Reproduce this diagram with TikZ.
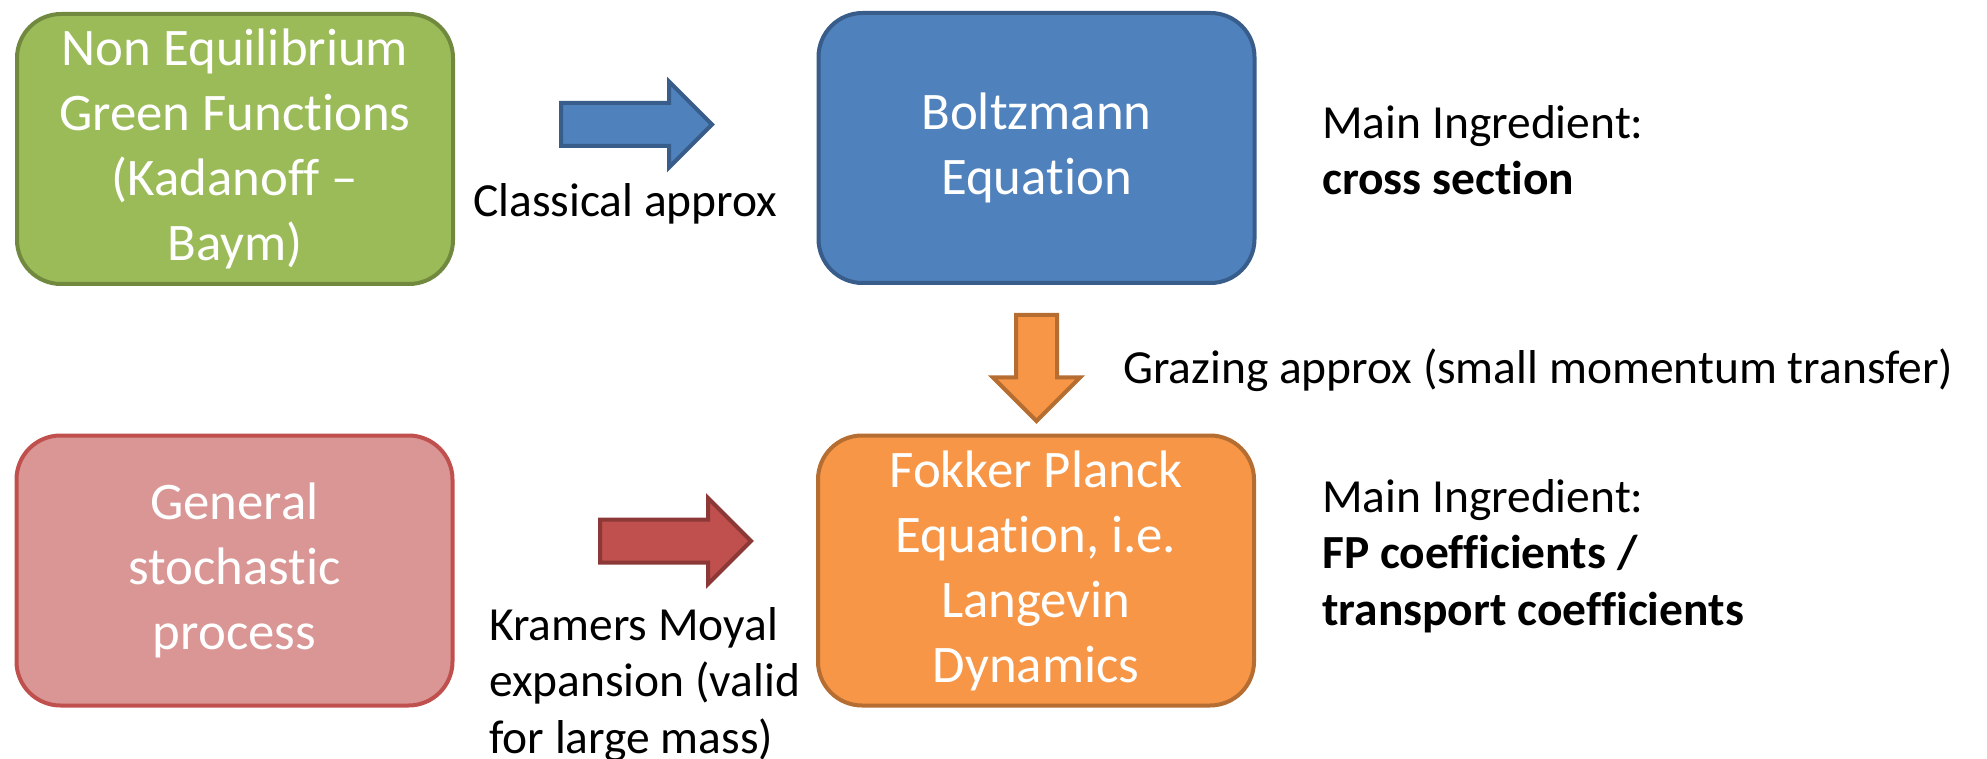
\documentclass[tikz,border=0pt]{standalone}
\usepackage{fontspec}
\setmainfont{Carlito}[RawFeature={-liga;-dlig;-calt;-clig}]
\usetikzlibrary{positioning,shapes.arrows}
\definecolor{grnfill}{HTML}{9BBB59}
\definecolor{grnline}{HTML}{71893F}
\definecolor{blufill}{HTML}{4F81BD}
\definecolor{bluline}{HTML}{385D8A}
\definecolor{pnkfill}{HTML}{D99694}
\definecolor{redfill}{HTML}{C0504D}
\definecolor{redline}{HTML}{8C3836}
\definecolor{orgfill}{HTML}{F79646}
\definecolor{orgline}{HTML}{B66D31}

\begin{document}
\begin{tikzpicture}[x=1pt,y=-1pt,
  box/.style={rounded corners=44pt,line width=4pt,minimum width=436pt,minimum height=270pt,text=white,align=center,inner sep=0pt,font=\fontsize{52.8}{65}\selectfont},
  blockarrow/.style={single arrow,single arrow tip angle=90,line width=4pt,inner xsep=0pt,inner ysep=19.5pt,single arrow head extend=21.5pt,minimum height=151pt,anchor=tail},
  lbl/.style={font=\fontsize{47.5}{56.5}\selectfont,align=left,inner sep=0pt}]
\useasboundingbox (0,0) rectangle (1987,759);
\node[box,fill=grnfill,draw=grnline] (noneq) at (235,149) {Non Equilibrium\\Green Functions\\(Kadanoff –\\Baym)};
\node[box,fill=blufill,draw=bluline] (boltz) at (1036.5,148) {Boltzmann\\Equation};
\node[box,fill=pnkfill,draw=redfill] (stoch) at (234.5,570.5) {General\\stochastic\\process};
\node[box,fill=orgfill,draw=orgline] (fokker) at (1036,570.5) {Fokker Planck\\Equation, i.e.\\Langevin\\Dynamics};
\node[blockarrow,fill=blufill,draw=bluline] (classarr) at (559,124.5) {};
\node[blockarrow,fill=redfill,draw=redline] (kmarr) at (598,541) {};
\node[blockarrow,fill=orgfill,draw=orgline,inner ysep=18.5pt,single arrow head extend=23pt,minimum height=106pt,rotate=-90] (grazarr) at (1036.5,313) {};
\node[lbl,anchor=base west] (classlbl) at (473,217) {Classical approx};
\node[lbl,anchor=base west] (grazlbl) at (1123,383) {Grazing approx (small momentum transfer)};
\node[lbl,anchor=north west] (ingrtop) at (1322,105) {Main Ingredient:\\\textbf{cross section}};
\node[lbl,anchor=north west] (ingrbot) at (1322,479) {Main Ingredient:\\\textbf{FP coefficients /}\\\textbf{transport coefficients}};
\node[lbl,anchor=north west] (kmlbl) at (489,607) {Kramers Moyal\\expansion (valid\\for large mass)};
\end{tikzpicture}
\end{document}
